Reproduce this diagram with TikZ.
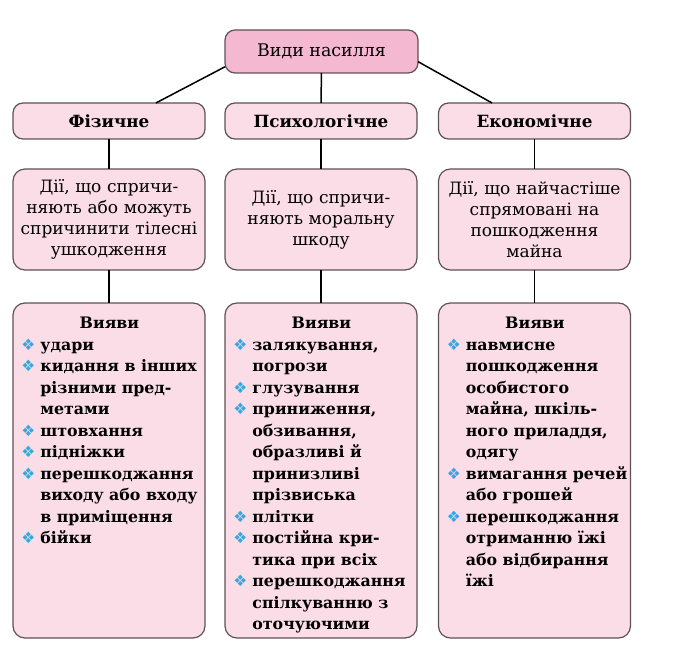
\documentclass[tikz,border=0pt]{standalone}
\usepackage{fontspec}
\setmainfont{DejaVu Serif}
\newfontfamily\bltfont{DejaVu Sans}
\usepackage{xcolor}
\definecolor{toppink}{HTML}{F4B9D0}
\definecolor{boxpink}{HTML}{FADDE6}
\definecolor{boxline}{HTML}{5E5257}
\definecolor{bulletblue}{HTML}{3BA6DE}
\newcommand{\blt}{\makebox[9.5pt][l]{\bltfont\fontsize{7.8}{7.8}\selectfont\color{bulletblue}❖}}
\newcommand{\ind}{\hspace*{9.5pt}}
\newcommand{\vhead}{\makebox[88pt]{Вияви}}

\begin{document}
\begin{tikzpicture}[x=0.5pt,y=-0.5pt,
    box/.style={draw=boxline,fill=boxpink,line width=0.6pt,outer sep=0pt,rounded corners=5pt},
    kind/.style={box,minimum width=96pt,minimum height=18pt,inner sep=1pt,font=\bfseries\fontsize{8.4}{10}\selectfont},
    deed/.style={box,rounded corners=6pt,minimum width=96pt,minimum height=50.5pt,inner sep=1pt,text width=94pt,align=center,font=\fontsize{8.5}{10.5}\selectfont},
    shows/.style={box,rounded corners=6pt,minimum width=96pt,minimum height=167.5pt},
    list/.style={anchor=north west,inner sep=0pt,align=left,font=\bfseries\fontsize{7.9}{10.75}\selectfont},
    link/.style={line width=0.75pt}]
    \useasboundingbox (0,0) rectangle (679,663);
    \node[box,fill=toppink,minimum width=96.5pt,minimum height=21.5pt,inner sep=1pt,font=\fontsize{8.7}{10}\selectfont] (vydy) at (321.5,51.5) {Види насилля};
    \node[kind] (fiz) at (109,121) {Фізичне};
    \node[kind] (psy) at (321,121) {Психологічне};
    \node[kind] (eko) at (534.5,121) {Економічне};
    \node[deed] (fizd) at (109,219.5) {Дії, що спричи-\\няють або можуть\\спричинити тілесні\\ушкодження};
    \node[deed] (psyd) at (321,219.5) {Дії, що спричи-\\няють моральну\\шкоду};
    \node[deed] (ekod) at (534.5,219.5) {Дії, що найчастіше\\спрямовані на\\пошкодження\\майна};
    \node[shows] (fizs) at (109,470.5) {};
    \node[shows] (psys) at (321,470.5) {};
    \node[shows] (ekos) at (534.5,470.5) {};
    \node[list] (fizt) at ([xshift=4pt,yshift=-7pt]fizs.north west) {\vhead\\
        \blt удари\\
        \blt кидання в інших\\ \ind різними пред-\\ \ind метами\\
        \blt штовхання\\
        \blt підніжки\\
        \blt перешкоджання\\ \ind виходу або входу\\ \ind в приміщення\\
        \blt бійки};
    \node[list] (psyt) at ([xshift=4pt,yshift=-7pt]psys.north west) {\vhead\\
        \blt залякування,\\ \ind погрози\\
        \blt глузування\\
        \blt приниження,\\ \ind обзивання,\\ \ind образливі й\\ \ind принизливі\\ \ind прізвиська\\
        \blt плітки\\
        \blt постійна кри-\\ \ind тика при всіх\\
        \blt перешкоджання\\ \ind спілкуванню з\\ \ind оточуючими};
    \node[list] (ekot) at ([xshift=4pt,yshift=-7pt]ekos.north west) {\vhead\\
        \blt навмисне\\ \ind пошкодження\\ \ind особистого\\ \ind майна, шкіль-\\ \ind ного приладдя,\\ \ind одягу\\
        \blt вимагання речей\\ \ind або грошей\\
        \blt перешкоджання\\ \ind отриманню їжі\\ \ind або відбирання\\ \ind їжі};
    \draw[link] (vydy.189) -- (fiz.21);
    \draw[link] (vydy) -- (psy);
    \draw[link] (vydy.354) -- (eko.157);
    \draw[link] (fiz) -- (fizd);
    \draw[link] (psy) -- (psyd);
    \draw[link] (eko) -- (ekod);
    \draw[link] (fizd) -- (fizs);
    \draw[link] (psyd) -- (psys);
    \draw[link] (ekod) -- (ekos);
\end{tikzpicture}
\end{document}
